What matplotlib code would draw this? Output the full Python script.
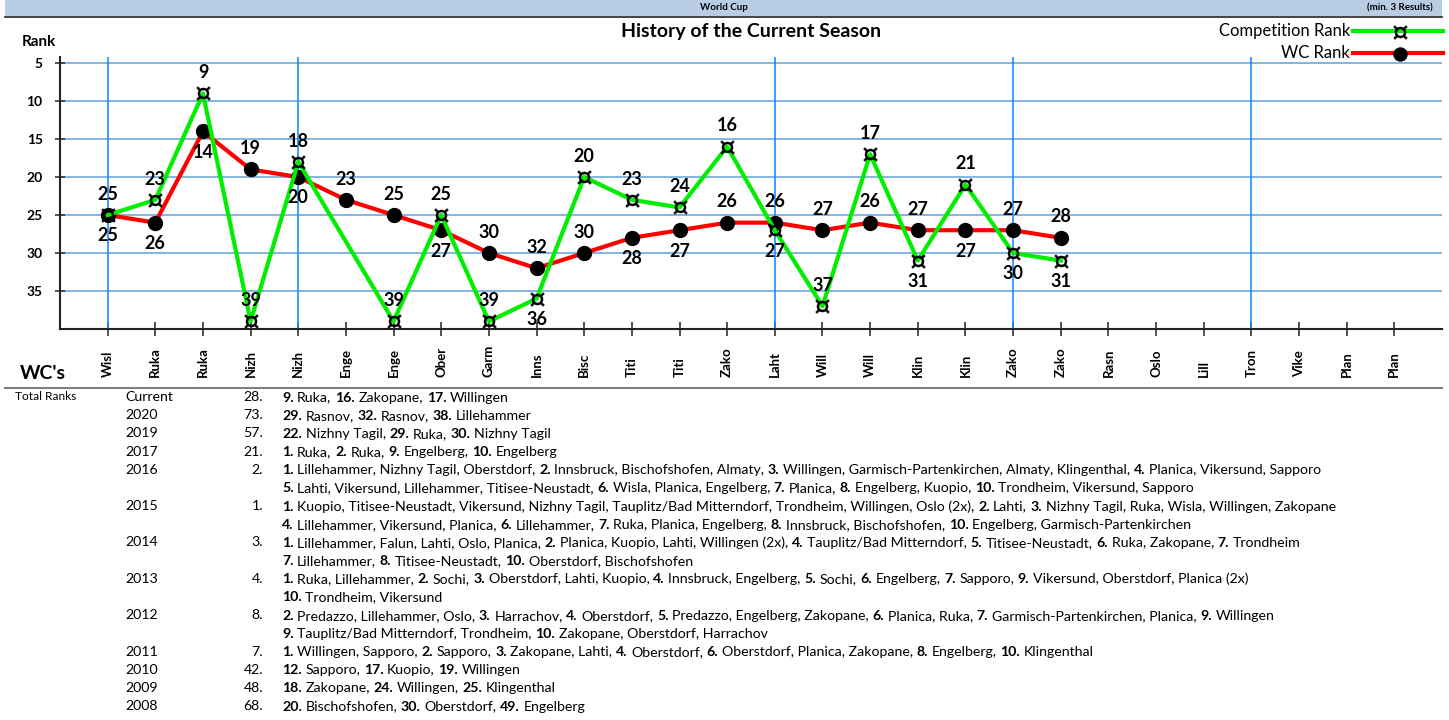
import re
import numpy as np
import matplotlib
matplotlib.use("Agg")
import matplotlib.pyplot as plt
from matplotlib.lines import Line2D
from matplotlib.patches import Rectangle

plt.rcParams["font.family"] = ["Lato", "DejaVu Sans"]
plt.rcParams["mathtext.fontset"] = "custom"
plt.rcParams["mathtext.rm"] = "Lato"

# season venues (short names as on the axis)
venues = ["Wisl", "Ruka", "Ruka", "Nizh", "Nizh", "Enge", "Enge", "Ober", "Garm", "Inns",
          "Bisc", "Titi", "Titi", "Zako", "Laht", "Will", "Will", "Klin", "Klin", "Zako",
          "Zako", "Rasn", "Oslo", "Lill", "Tron", "Vike", "Plan", "Plan"]
comp_rank = [25, 23, 9, 39, 18, np.nan, 39, 25, 39, 36, 20, 23, 24, 16, 27, 37, 17, 31, 21, 30, 31]
wc_rank = [25, 26, 14, 19, 20, 23, 25, 27, 30, 32, 30, 28, 27, 26, 26, 27, 26, 27, 27, 27, 28]
period_starts = [0, 4, 14, 19, 24]

table_years = ["Current", "2020", "2019", "2017", "2016", "2015", "2014", "2013",
               "2012", "2011", "2010", "2009", "2008"]
table_totals = ["28.", "73.", "57.", "21.", "2.", "1.", "3.", "4.", "8.", "7.", "42.", "48.", "68."]
table_results = [
    ["9. Ruka, 16. Zakopane, 17. Willingen"],
    ["29. Rasnov, 32. Rasnov, 38. Lillehammer"],
    ["22. Nizhny Tagil, 29. Ruka, 30. Nizhny Tagil"],
    ["1. Ruka, 2. Ruka, 9. Engelberg, 10. Engelberg"],
    ["1. Lillehammer, Nizhny Tagil, Oberstdorf, 2. Innsbruck, Bischofshofen, Almaty, 3. Willingen, "
     "Garmisch-Partenkirchen, Almaty, Klingenthal, 4. Planica, Vikersund, Sapporo",
     "5. Lahti, Vikersund, Lillehammer, Titisee-Neustadt, 6. Wisla, Planica, Engelberg, 7. Planica, "
     "8. Engelberg, Kuopio, 10. Trondheim, Vikersund, Sapporo"],
    ["1. Kuopio, Titisee-Neustadt, Vikersund, Nizhny Tagil, Tauplitz/Bad Mitterndorf, Trondheim, "
     "Willingen, Oslo (2x), 2. Lahti, 3. Nizhny Tagil, Ruka, Wisla, Willingen, Zakopane",
     "4. Lillehammer, Vikersund, Planica, 6. Lillehammer, 7. Ruka, Planica, Engelberg, 8. Innsbruck, "
     "Bischofshofen, 10. Engelberg, Garmisch-Partenkirchen"],
    ["1. Lillehammer, Falun, Lahti, Oslo, Planica, 2. Planica, Kuopio, Lahti, Willingen (2x), "
     "4. Tauplitz/Bad Mitterndorf, 5. Titisee-Neustadt, 6. Ruka, Zakopane, 7. Trondheim",
     "7. Lillehammer, 8. Titisee-Neustadt, 10. Oberstdorf, Bischofshofen"],
    ["1. Ruka, Lillehammer, 2. Sochi, 3. Oberstdorf, Lahti, Kuopio, 4. Innsbruck, Engelberg, "
     "5. Sochi, 6. Engelberg, 7. Sapporo, 9. Vikersund, Oberstdorf, Planica (2x)",
     "10. Trondheim, Vikersund"],
    ["2. Predazzo, Lillehammer, Oslo, 3. Harrachov, 4. Oberstdorf, 5. Predazzo, Engelberg, Zakopane, "
     "6. Planica, Ruka, 7. Garmisch-Partenkirchen, Planica, 9. Willingen",
     "9. Tauplitz/Bad Mitterndorf, Trondheim, 10. Zakopane, Oberstdorf, Harrachov"],
    ["1. Willingen, Sapporo, 2. Sapporo, 3. Zakopane, Lahti, 4. Oberstdorf, 6. Oberstdorf, Planica, "
     "Zakopane, 8. Engelberg, 10. Klingenthal"],
    ["12. Sapporo, 17. Kuopio, 19. Willingen"],
    ["18. Zakopane, 24. Willingen, 25. Klingenthal"],
    ["20. Bischofshofen, 30. Oberstdorf, 49. Engelberg"],
]

W, H = 1449, 720
GREEN = "#00ee00"
RED = "#ff0000"


def fx(px):
    return px / W


def fy(py):
    return 1 - py / H


fig = plt.figure(figsize=(W / 100, H / 100), dpi=100)
renderer = fig.canvas.get_renderer()

# top banner
fig.add_artist(Rectangle((fx(5), fy(16)), fx(1437), 16 / H, transform=fig.transFigure,
                         facecolor="#b8cce4", edgecolor="none"))
fig.add_artist(Line2D([fx(5), fx(1442)], [fy(17), fy(17)], color="#222222", lw=1.2))
fig.text(fx(724), fy(8), "World Cup", ha="center", va="center", fontsize=7, fontweight="bold")
fig.text(fx(1433), fy(8), "(min. 3 Results)", ha="right", va="center", fontsize=7, fontweight="bold")

fig.text(fx(751), fy(31), "History of the Current Season", ha="center", va="center",
         fontsize=14, fontweight="bold")
fig.text(fx(22), fy(42), "Rank", ha="left", va="center", fontsize=11, fontweight="bold")

# legend drawn by hand like the original
for ypx, label, col, mk in [(31, "Competition Rank", GREEN, "$¤$"), (53, "WC Rank", RED, "o")]:
    fig.text(fx(1350), fy(ypx), label, ha="right", va="center", fontsize=12)
    fig.add_artist(Line2D([fx(1353), fx(1443)], [fy(ypx), fy(ypx)], color=col, lw=3))
    fig.add_artist(Line2D([fx(1400)], [fy(ypx + 1)], marker=mk, color="black",
                          markerfacecolor="black", markeredgewidth=0.3, markersize=10, lw=0))

ax = fig.add_axes([fx(60), fy(329), fx(1382), 272 / H])
x_wc = np.arange(len(wc_rank))
x_comp = np.arange(len(comp_rank))
comp = np.array(comp_rank, dtype=float)
ok = ~np.isnan(comp)

ax.plot(x_wc, wc_rank, color=RED, lw=3, marker="o", markersize=10,
        markerfacecolor="black", markeredgecolor="black", zorder=3)
ax.plot(x_comp[ok], comp[ok], color=GREEN, lw=3, marker="$¤$", markersize=10,
        markerfacecolor="black", markeredgecolor="black", markeredgewidth=0.3, zorder=4)

for i, v in enumerate(wc_rank):
    g = comp[i] if i < len(comp) else np.nan
    below = (not np.isnan(g)) and g <= v and v - g < 8
    ax.annotate(f"{v}", (i, v), xytext=(0, -15 if below else 15), textcoords="offset points",
                ha="center", va="center", fontsize=13, fontweight="bold", zorder=5)
for i in x_comp[ok]:
    g = comp[i]
    below = g > wc_rank[i] and g < 37
    ax.annotate(f"{int(g)}", (i, g), xytext=(0, -15 if below else 15), textcoords="offset points",
                ha="center", va="center", fontsize=13, fontweight="bold", zorder=5)

ax.set_xlim(-1, 28)
ax.set_ylim(40, 4.2)
ax.set_yticks(range(5, 40, 5))
ax.set_yticklabels([str(t) for t in range(5, 40, 5)], fontweight="bold", fontsize=10)
ax.yaxis.grid(True, color="#6fa8dc", lw=1.2)
ax.set_axisbelow(True)
for i in period_starts:
    ax.axvline(i, color="#1a8cff", lw=1.2, zorder=1)
ax.set_xticks(range(len(venues)))
ax.set_xticklabels([])
ax.tick_params(axis="x", direction="inout", length=10, width=1.2, color="#333333")
ax.tick_params(axis="y", direction="inout", length=7, width=1.2, color="#333333", pad=9)
for side in ["top", "right"]:
    ax.spines[side].set_visible(False)
for side in ["left", "bottom"]:
    ax.spines[side].set_color("#222222")
    ax.spines[side].set_linewidth(1.5)

for i, name in enumerate(venues):
    ax.text(i, -(377 - 329) / 272, name, rotation=90, ha="center", va="bottom",
            fontsize=9.5, fontweight="bold", transform=ax.get_xaxis_transform())

fig.text(fx(20), fy(373), "WC's", ha="left", va="center", fontsize=14, fontweight="bold")
fig.add_artist(Line2D([fx(5), fx(1442)], [fy(388), fy(388)], color="#808080", lw=1.5))

# table of best results
fs = 10.2
probe_a = fig.text(0, 0, "ab", fontsize=fs)
probe_b = fig.text(0, 0, "a b", fontsize=fs)
space_w = (probe_b.get_window_extent(renderer).width - probe_a.get_window_extent(renderer).width)
probe_a.remove()
probe_b.remove()


def rich_line(xpx, ypx, line):
    # "N." in bold, the rest regular, drawn piece by piece
    parts = re.split(r"(\d+\.)", line)
    for k, p in enumerate(parts):
        s = p.strip(" ")
        xpx += (len(p) - len(p.lstrip(" "))) * space_w
        if s:
            t = fig.text(fx(xpx), fy(ypx), s, ha="left", va="baseline", fontsize=fs,
                         fontweight="bold" if k % 2 else "normal")
            xpx += t.get_window_extent(renderer).width
            xpx += (len(p) - len(p.rstrip(" "))) * space_w


fig.text(fx(15), fy(397), "Total Ranks", ha="left", va="center", fontsize=8.6)
row = 0
step = 18.18
for year, total, lines in zip(table_years, table_totals, table_results):
    y = 397 + row * step
    fig.text(fx(125), fy(y), year, ha="left", va="center", fontsize=fs)
    fig.text(fx(263), fy(y), total, ha="right", va="center", fontsize=fs)
    for line in lines:
        y = 397 + row * step
        rich_line(282, y + 4.5, line)
        row += 1

fig.savefig("out.png", dpi=100)
